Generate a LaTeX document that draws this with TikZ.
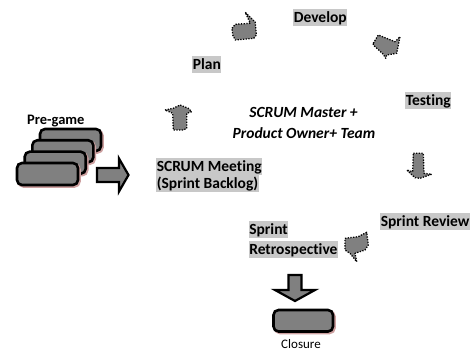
\documentclass[tikz,border=0pt]{standalone}
\usepackage{fontspec}
\setmainfont{Carlito}[Ligatures=CommonOff]
\definecolor{hlgray}{RGB}{200,200,200}
\definecolor{boxgray}{RGB}{128,128,128}
\definecolor{shadowc}{RGB}{205,160,160}
\begin{document}
\begin{tikzpicture}[x=1pt,y=-1pt,
  lab/.style={fill=hlgray, inner xsep=0.6pt, inner ysep=0pt, text height=13.5pt, text depth=3.5pt, anchor=base west, font=\bfseries\fontsize{15.5}{18}\selectfont},
  blk/.style={draw=black, line width=2.6pt, fill=boxgray, rounded corners=5pt},
  shd/.style={draw=shadowc, line width=2.6pt, rounded corners=5pt},
  bigarrow/.style={draw=black, line width=2.2pt, fill=boxgray, line join=miter},
  dotarrow/.style={draw=black, line width=1.3pt, dash pattern=on 1.3pt off 1.4pt, fill=boxgray, line join=round}]
\useasboundingbox (0,0) rectangle (475,352);
% pre-game stack
\foreach \xx/\yy in {40/129, 32.3/140.3, 24.7/151.7, 17/163}{
  \draw[shd] (\xx+1.5,\yy+1.5) rectangle ++(61,22);
  \draw[blk] (\xx,\yy) rectangle ++(61,22);
}
\node[font=\bfseries\fontsize{14.5}{16}\selectfont, anchor=base west, inner sep=0] (pregame) at (27,124.5) {Pre-game};
% big arrow right
\draw[bigarrow] (97,168) -- (119,168) -- (119,158.5) -- (128.5,175) -- (119,191.5) -- (119,182) -- (97,182) -- cycle;
% closure arrow and box
\draw[bigarrow] (288.5,275) -- (301.5,275) -- (301.5,290) -- (315,290) -- (295,301) -- (275,290) -- (288.5,290) -- cycle;
\draw[shd] (275,311.5) rectangle (334.5,333);
\draw[blk] (273.5,310) rectangle (333,331.5);
\node[font=\fontsize{13}{15}\selectfont, anchor=base, inner sep=0] (closure) at (301,348.5) {Closure};
% small dotted arrows
\draw[dotarrow] (232,28.3) -- (235.3,24.3) -- (250.3,23.3) -- (245.3,12.3) -- (255.3,22.3) -- (256.3,35) -- (253.7,38.3) -- (235.3,40) -- (232.7,35) -- cycle;
\draw[dotarrow] (165,110) -- (173.3,108.3) -- (180,105) -- (188.3,108.3) -- (191.7,111.7) -- (186.7,113.3) -- (186.7,128.3) -- (183.3,130) -- (173.3,130) -- (172.7,113.3) -- cycle;
\draw[dotarrow] (373.3,43.3) -- (378.3,35) -- (395,41.7) -- (400,36.7) -- (396.7,53.3) -- (386.7,55) -- (385.7,58.3) -- (383.3,54.3) -- (373.3,45) -- cycle;
\draw[dotarrow] (413.3,153.3) -- (423.3,153.3) -- (424,173.3) -- (431.7,174.3) -- (420,178.3) -- (415,177.7) -- (406.7,170) -- (412.7,171.7) -- cycle;
\draw[dotarrow] (345,238.3) -- (358.3,236.7) -- (366.7,232.3) -- (368.3,245) -- (365,250) -- (355,253.3) -- (356.7,261.7) -- (350,253.3) -- (345,250) -- cycle;
% labels
\node[lab] (develop) at (293,23) {Develop};
\node[lab] (plan) at (192,70) {Plan};
\node[lab] (testing) at (405,106) {Testing};
\node[lab] (meet1) at (156,171.5) {SCRUM Meeting};
\node[lab] (meet2) at (156,189) {(Sprint Backlog)};
\node[lab] (sprint) at (248.5,235) {Sprint};
\node[lab] (retro) at (248.5,255) {Retrospective};
\node[lab] (review) at (380,227) {Sprint Review};
\node[font=\bfseries\itshape\fontsize{15.5}{18}\selectfont, anchor=base, inner sep=0] (team1) at (303.5,117.5) {SCRUM Master +};
\node[font=\bfseries\itshape\fontsize{15.5}{18}\selectfont, anchor=base, inner sep=0] (team2) at (304,138.5) {Product Owner+ Team};
\end{tikzpicture}
\end{document}
